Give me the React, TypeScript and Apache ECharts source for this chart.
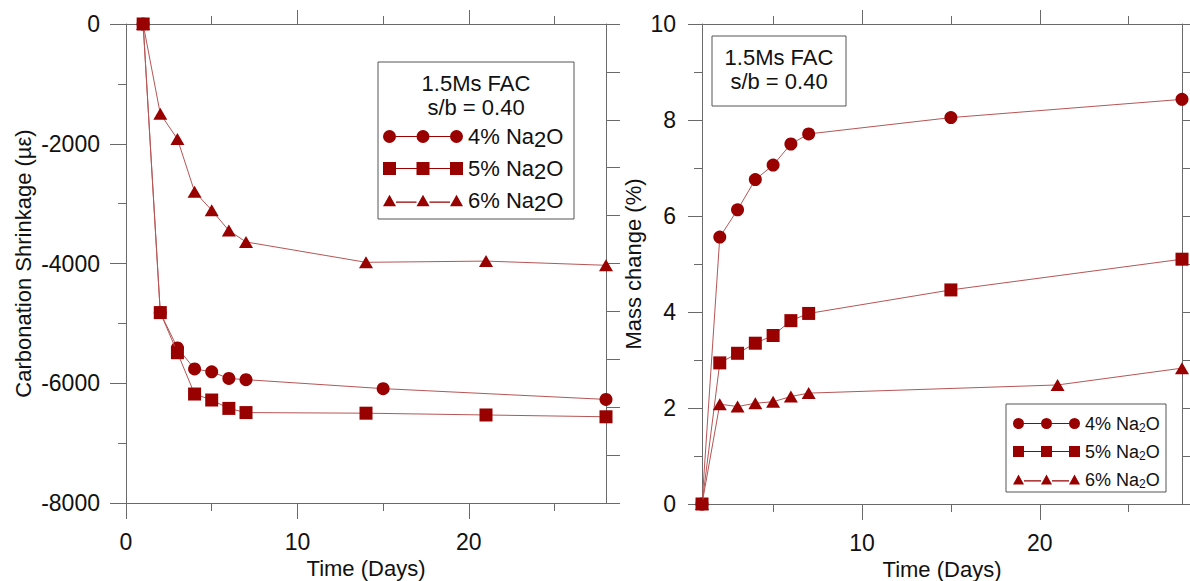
import React, { useEffect, useRef } from "react";
import * as echarts from "echarts";

// ---------- data ----------
const seriesNames = ["4% Na2O", "5% Na2O", "6% Na2O"];

// Left: carbonation shrinkage (µε)
const shrinkDays4 = [1, 2, 3, 4, 5, 6, 7, 15, 28];
const shrinkDays5 = [1, 2, 3, 4, 5, 6, 7, 14, 21, 28];
const shrinkDays6 = [1, 2, 3, 4, 5, 6, 7, 14, 21, 28];
const shrink4 = [0, -4820, -5410, -5760, -5810, -5920, -5940, -6090, -6270];
const shrink5 = [0, -4820, -5490, -6180, -6280, -6420, -6490, -6500, -6530, -6560];
const shrink6 = [0, -1500, -1920, -2800, -3110, -3450, -3640, -3980, -3960, -4030];

// Right: mass change (%)
const massDays4 = [1, 2, 3, 4, 5, 6, 7, 15, 28];
const massDays5 = [1, 2, 3, 4, 5, 6, 7, 15, 28];
const massDays6 = [1, 2, 3, 4, 5, 6, 7, 21, 28];
const mass4 = [0, 5.56, 6.13, 6.76, 7.06, 7.5, 7.71, 8.05, 8.43];
const mass5 = [0, 2.94, 3.14, 3.35, 3.51, 3.82, 3.97, 4.46, 5.1];
const mass6 = [0, 2.08, 2.03, 2.1, 2.13, 2.24, 2.31, 2.48, 2.83];

// tick values
const shrinkXMajor = [0, 10, 20];
const massXMajor = [10, 20];
const xMinor = [5, 15, 25];
const shrinkYMinor = [-7000, -5000, -3000, -1000];
const massYMinor = [1, 3, 5, 7, 9];

const boxTitle1 = "1.5Ms FAC";
const boxTitle2 = "s/b = 0.40";

// ---------- styles ----------
const FONT = "'Liberation Sans', Arial, sans-serif";
const AXIS = "#6a6a6a";
const MARK = "#990000";
const LINE = "#b65555";
const TEXT = "#111";

const zip = (xs: number[], ys: number[]) => xs.map((x, i) => [x, ys[i]]);

function iconPath(kind: string, w: number, s: number) {
  const h = s;
  const cy = h / 2;
  const centers = [s / 2, w / 2, w - s / 2];
  let d = "";
  centers.forEach((cx) => {
    if (kind === "circle") {
      const r = s / 2;
      d += `M${cx - r},${cy}A${r},${r} 0 1,1 ${cx + r},${cy}A${r},${r} 0 1,1 ${cx - r},${cy}Z `;
    } else if (kind === "rect") {
      d += `M${cx - s / 2},0H${cx + s / 2}V${h}H${cx - s / 2}Z `;
    } else {
      d += `M${cx - s / 2},${h}L${cx},${h * 0.1}L${cx + s / 2},${h}Z `;
    }
  });
  const ly = kind === "triangle" ? h * 0.68 : cy;
  for (let i = 0; i < 2; i++) {
    const a = centers[i] + s / 2;
    const b = centers[i + 1] - s / 2;
    d += `M${a},${ly - 0.6}H${b}V${ly + 0.6}H${a}Z `;
  }
  return "path://" + d.trim();
}

const kinds = ["circle", "rect", "triangle"];

function baseAxis(gridIndex: number, min: number, max: number, extra: any) {
  return {
    type: "value",
    gridIndex,
    min,
    max,
    splitLine: { show: false },
    axisLine: { show: false, onZero: false, lineStyle: { color: AXIS, width: 1 } },
    axisTick: { show: false },
    axisLabel: { show: false },
    ...extra,
  };
}

function tick(values: number[] | null, length: number) {
  const t: any = { show: true, length, lineStyle: { color: AXIS, width: 1 } };
  if (values) t.customValues = values;
  return t;
}

const labelStyle = { fontSize: 23, color: TEXT, fontFamily: FONT };
const nameStyle = { fontSize: 22, color: TEXT, fontFamily: FONT };

export default function App() {
  const ref = useRef<HTMLDivElement>(null);

  useEffect(() => {
    if (!ref.current) return;
    const chart = echarts.init(ref.current, null, { renderer: "svg" });

    const lineOn = { show: true, onZero: false, lineStyle: { color: AXIS, width: 1 } };

    const xAxis = [
      // left grid
      baseAxis(0, 0, 28, {
        position: "bottom",
        axisLine: lineOn,
        axisTick: tick(shrinkXMajor, 16),
        axisLabel: { show: true, customValues: shrinkXMajor, margin: 27, ...labelStyle },
        name: "Time (Days)",
        nameLocation: "middle",
        nameGap: 53,
        nameTextStyle: nameStyle,
      }),
      baseAxis(0, 0, 28, { position: "bottom", axisTick: tick(xMinor, 8) }),
      baseAxis(0, 0, 28, { position: "top", axisLine: lineOn, axisTick: tick([10, 20], 14) }),
      baseAxis(0, 0, 28, { position: "top", axisTick: tick(xMinor, 8) }),
      // right grid
      baseAxis(1, 1, 28, {
        position: "bottom",
        axisLine: lineOn,
        axisTick: tick(massXMajor, 16),
        axisLabel: { show: true, customValues: massXMajor, margin: 27, ...labelStyle },
        name: "Time (Days)",
        nameLocation: "middle",
        nameGap: 53,
        nameTextStyle: nameStyle,
      }),
      baseAxis(1, 1, 28, { position: "bottom", axisTick: tick(xMinor, 8) }),
      baseAxis(1, 1, 28, { position: "top", axisLine: lineOn, axisTick: tick(massXMajor, 14) }),
      baseAxis(1, 1, 28, { position: "top", axisTick: tick(xMinor, 8) }),
    ];

    const yAxis = [
      // left grid
      baseAxis(0, -8000, 0, {
        position: "left",
        interval: 2000,
        axisLine: lineOn,
        axisTick: tick(null, 16),
        axisLabel: { show: true, margin: 26, formatter: (v: number) => String(v), ...labelStyle },
        name: "Carbonation Shrinkage (µε)",
        nameLocation: "middle",
        nameGap: 92,
        nameTextStyle: nameStyle,
      }),
      baseAxis(0, -8000, 0, { position: "left", axisTick: tick(shrinkYMinor, 8) }),
      baseAxis(0, 0, 10, { position: "right", interval: 1, axisLine: lineOn, axisTick: tick(null, 14) }),
      // right grid
      baseAxis(1, 0, 10, {
        position: "left",
        interval: 2,
        axisLine: lineOn,
        axisTick: tick(null, 14),
        axisLabel: { show: true, margin: 26, ...labelStyle },
        name: "Mass change (%)",
        nameLocation: "middle",
        nameGap: 58,
        nameTextStyle: nameStyle,
      }),
      baseAxis(1, 0, 10, { position: "left", axisTick: tick(massYMinor, 8) }),
      baseAxis(1, 0, 10, { position: "right", interval: 1, axisLine: lineOn, axisTick: tick(null, 12) }),
    ];

    const mkSeries = (name: string, data: number[][], k: number, xi: number, yi: number) => ({
      type: "line",
      name,
      data,
      xAxisIndex: xi,
      yAxisIndex: yi,
      symbol: kinds[k],
      symbolSize: k === 2 ? [14, 12] : 13,
      showSymbol: true,
      lineStyle: { color: LINE, width: 1 },
      itemStyle: { color: MARK },
      emphasis: { disabled: true },
      z: 3 + k,
    });

    const series = [
      mkSeries(seriesNames[0], zip(shrinkDays4, shrink4), 0, 0, 0),
      mkSeries(seriesNames[1], zip(shrinkDays5, shrink5), 1, 0, 0),
      mkSeries(seriesNames[2], zip(shrinkDays6, shrink6), 2, 0, 0),
      mkSeries(seriesNames[0], zip(massDays4, mass4), 0, 4, 3),
      mkSeries(seriesNames[1], zip(massDays5, mass5), 1, 4, 3),
      mkSeries(seriesNames[2], zip(massDays6, mass6), 2, 4, 3),
    ];

    const option: any = {
      animation: false,
      backgroundColor: "#fff",
      textStyle: { fontFamily: FONT },
      grid: [
        { left: 126, top: 24, width: 480, height: 479, outerBoundsMode: "none", containLabel: false },
        { left: 702, top: 24, width: 480, height: 480, outerBoundsMode: "none", containLabel: false },
      ],
      xAxis,
      yAxis,
      legend: [
        {
          orient: "vertical",
          left: 383,
          top: 123,
          padding: 0,
          itemWidth: 80,
          itemHeight: 13,
          itemGap: 5,
          selectedMode: false,
          z: 10,
          data: seriesNames.map((n, i) => ({ name: n, icon: iconPath(kinds[i], 80, 13) })),
          formatter: (n: string) => n.replace("Na2O", "Na{l|2}O"),
          textStyle: {
            fontSize: 22,
            lineHeight: 24,
            color: TEXT,
            fontFamily: FONT,
            rich: { l: { fontSize: 22, lineHeight: 24, padding: [5, 0, 0, 0], color: TEXT, fontFamily: FONT } },
          },
        },
        {
          orient: "vertical",
          left: 1013,
          top: 413,
          padding: 0,
          itemWidth: 67,
          itemHeight: 11,
          itemGap: 7,
          selectedMode: false,
          z: 10,
          data: seriesNames.map((n, i) => ({ name: n, icon: iconPath(kinds[i], 67, 11) })),
          formatter: (n: string) => n.replace("Na2O", "Na{s|2}O"),
          textStyle: {
            fontSize: 18,
            lineHeight: 21,
            color: TEXT,
            fontFamily: FONT,
            rich: { s: { fontSize: 12, lineHeight: 12, padding: [9, 0, 0, 0], color: TEXT, fontFamily: FONT } },
          },
        },
      ],
      graphic: [
        {
          type: "rect",
          z: 1,
          shape: { x: 378, y: 62, width: 196, height: 157 },
          style: { fill: "#fff", stroke: "#555", lineWidth: 1 },
        },
        {
          type: "text",
          z: 2,
          x: 476,
          y: 83,
          style: { text: boxTitle1, fontSize: 22, fontFamily: FONT, fill: TEXT, align: "center", verticalAlign: "middle" },
        },
        {
          type: "text",
          z: 2,
          x: 476,
          y: 107,
          style: { text: boxTitle2, fontSize: 22, fontFamily: FONT, fill: TEXT, align: "center", verticalAlign: "middle" },
        },
        {
          type: "rect",
          z: 1,
          shape: { x: 712, y: 36, width: 134, height: 70 },
          style: { fill: "#fff", stroke: "#555", lineWidth: 1 },
        },
        {
          type: "text",
          z: 2,
          x: 779,
          y: 57,
          style: { text: boxTitle1, fontSize: 22, fontFamily: FONT, fill: TEXT, align: "center", verticalAlign: "middle" },
        },
        {
          type: "text",
          z: 2,
          x: 779,
          y: 81,
          style: { text: boxTitle2, fontSize: 22, fontFamily: FONT, fill: TEXT, align: "center", verticalAlign: "middle" },
        },
        {
          type: "rect",
          z: 1,
          shape: { x: 1006, y: 404, width: 160, height: 88 },
          style: { fill: "#fff", stroke: "#555", lineWidth: 1 },
        },
      ],
      series,
    };

    chart.setOption(option);
    return () => chart.dispose();
  }, []);

  return (
    <div
      ref={ref}
      style={{ position: "absolute", left: 0, top: 0, width: 1190, height: 581, background: "#fff" }}
    />
  );
}
